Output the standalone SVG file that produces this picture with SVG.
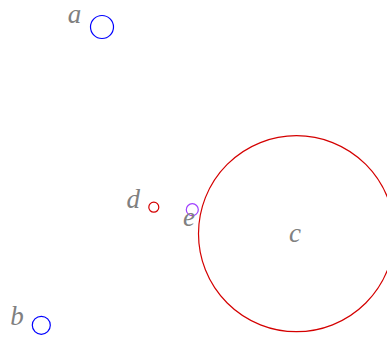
<svg xmlns="http://www.w3.org/2000/svg" width="387" height="337" viewBox="0 0 387 337">
<style>
.lbl{font-family:"Liberation Serif","DejaVu Serif",serif;font-style:italic;font-size:27px;fill:#808080;text-anchor:middle}
circle{fill:none;stroke-width:1.2}
.blue{stroke:#0000ff}
.red{stroke:#d40000}
.purple{stroke:#a040ff}
</style>
<rect width="387" height="337" fill="#fff"/>
<g id="a"><circle class="blue" cx="102" cy="27" r="11.5"/><text class="lbl" x="74.5" y="23">a</text></g>
<g id="b"><circle class="blue" cx="41.3" cy="325.3" r="9"/><text class="lbl" x="17" y="325">b</text></g>
<g id="c"><circle class="red" cx="296.5" cy="233.7" r="98"/><text class="lbl" x="295" y="242">c</text></g>
<g id="d"><circle class="red" cx="153.8" cy="207.2" r="5"/><text class="lbl" x="133.3" y="208.3">d</text></g>
<g id="e"><circle class="purple" cx="192.3" cy="209.7" r="6"/><text class="lbl" x="189" y="225.5">e</text></g>
<g id="connectors"/>
</svg>
